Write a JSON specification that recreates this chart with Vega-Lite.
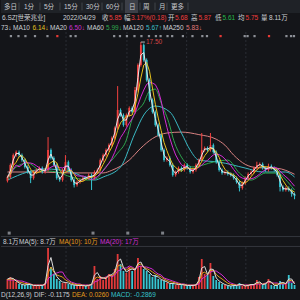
{
"$schema":"https://vega.github.io/schema/vega-lite/v6.json",
"background":"#141519",
"padding":0,
"spacing":0,
"bounds":"flush",
"config":{"view":{"stroke":null},"concat":{"spacing":0},"text":{"font":"Liberation Sans, Noto Sans CJK SC"}},
"resolve":{"scale":{"x":"independent","y":"independent"}},
"datasets":{
"tabs":[{"x":3,"t":"多日"},{"x":23,"t":"1分"},{"x":43,"t":"5分"},{"x":63,"t":"15分"},{"x":85,"t":"30分"},{"x":105,"t":"60分"},{"x":128,"t":"日"},{"x":142,"t":"周"},{"x":158,"t":"月"},{"x":170,"t":"更多"}],
"seps":[{"x":18,"a":0.2,"b":0.8},{"x":39,"a":0.2,"b":0.8},{"x":59,"a":0.2,"b":0.8},{"x":81,"a":0.2,"b":0.8},{"x":101,"a":0.2,"b":0.8},{"x":121,"a":0.2,"b":0.8},{"x":139,"a":0.2,"b":0.8},{"x":154,"a":0.2,"b":0.8},{"x":166,"a":0.2,"b":0.8},{"x":187,"a":0.2,"b":0.8}],
"sel":[{"x":124,"x2":137,"a":0,"b":1}],
"info":[{"x":1,"t":"6.SZ[世荣兆业]","k":"txt"},{"x":62,"t":"2022/04/29","k":"txt"},{"x":101,"t":"收","k":"txt"},{"x":108,"t":"5.85","k":"up"},{"x":123,"t":"幅","k":"txt"},{"x":130,"t":"3.17%(0.18)","k":"up"},{"x":167,"t":"开","k":"txt"},{"x":174,"t":"5.68","k":"up"},{"x":190,"t":"高","k":"txt"},{"x":197.5,"t":"5.87","k":"up"},{"x":214,"t":"低","k":"txt"},{"x":221.5,"t":"5.61","k":"dn"},{"x":237,"t":"均","k":"txt"},{"x":244.5,"t":"5.75","k":"up"},{"x":260,"t":"量","k":"txt"},{"x":268,"t":"8.11万","k":"txt"}],
"mrow":[{"x":0,"t":"73↓","k":"txt"},{"x":12,"t":"MA10","k":"txt"},{"x":31.5,"t":"6.14↓","k":"ma10"},{"x":49,"t":"MA20","k":"txt"},{"x":68,"t":"6.50↓","k":"ma20"},{"x":86,"t":"MA60","k":"txt"},{"x":105,"t":"5.99↓","k":"ma60"},{"x":122,"t":"MA120","k":"txt"},{"x":145,"t":"5.67↑","k":"ma120"},{"x":162,"t":"MA250","k":"txt"},{"x":185,"t":"5.83↓","k":"ma250"}],
"vlab":[{"x":2,"t":"8.1万","k":"txt"},{"x":18,"t":"MA(5): 8.7万","k":"txt"},{"x":58,"t":"MA(10): 10万","k":"v10"},{"x":99,"t":"MA(20): 17万","k":"v20"}],
"macd":[{"x":0,"t":"D(12,26,9)","k":"txt"},{"x":33,"t":"DIF: -0.1175","k":"txt"},{"x":71,"t":"DEA: 0.0260","k":"v10"},{"x":110,"t":"MACD: -0.2869","k":"cy"}],
"lines2":[{"s":0.05},{"s":0.95}],
"grid":[{"g":20.2},{"g":41.2},{"g":61.8},{"g":82.2}],
"peak":[{"i":46,"i2":47.4,"p":17.5,"t":"17.50"}],
"evtop":[{"i":1.2,"k":"n"},{"i":3.8,"k":"n"},{"i":6.2,"k":"n"},{"i":9.5,"k":"n"},{"i":13.8,"k":"n"},{"i":17.2,"k":"r"},{"i":21.8,"k":"n"},{"i":23.5,"k":"n"},{"i":36.8,"k":"n"},{"i":38.8,"k":"n"},{"i":41.2,"k":"n"},{"i":43.8,"k":"n"},{"i":46.2,"k":"n"},{"i":48.8,"k":"n"},{"i":51.2,"k":"n"},{"i":52.8,"k":"n"},{"i":55.2,"k":"n"},{"i":56.8,"k":"n"},{"i":60.5,"k":"n"},{"i":63.8,"k":"n"},{"i":67.2,"k":"n"},{"i":68.8,"k":"n"},{"i":73.5,"k":"r"},{"i":81.8,"k":"n"},{"i":82.8,"k":"n"},{"i":85.2,"k":"n"},{"i":90.2,"k":"r"},{"i":96.2,"k":"n"},{"i":97.8,"k":"n"},{"i":98.8,"k":"n"}],
"evbot":[{"i":0.6},{"i":29.5},{"i":41.5},{"i":53.5}],
"ma250":[{"i":0,"p":7.67},{"i":11,"p":7.67},{"i":22,"p":7.6},{"i":33,"p":7.6},{"i":36,"p":7.8},{"i":42,"p":8.57},{"i":46,"p":9.48},{"i":50,"p":10.2},{"i":55,"p":10.62},{"i":60,"p":10.69},{"i":66,"p":10.5},{"i":72,"p":10.15},{"i":75,"p":9.7},{"i":78,"p":8.95},{"i":82,"p":8.25},{"i":86,"p":8.0},{"i":93,"p":7.95},{"i":99,"p":7.5}],
"ma120":[{"i":0,"p":7.06},{"i":7,"p":7.67},{"i":13,"p":7.9},{"i":22,"p":7.67},{"i":30,"p":7.06},{"i":33,"p":7.29},{"i":39,"p":8.05},{"i":44,"p":10.62},{"i":47,"p":11.98},{"i":51,"p":12.66},{"i":56,"p":12.21},{"i":60,"p":10.62},{"i":63,"p":9.33},{"i":66,"p":8.57},{"i":73,"p":8.42},{"i":82,"p":7.97},{"i":88,"p":7.67},{"i":96,"p":7.67},{"i":99,"p":7.29}],
"ma60":[{"i":0,"p":7.06},{"i":3,"p":8.05},{"i":7,"p":8.35},{"i":11,"p":7.82},{"i":17,"p":7.67},{"i":22,"p":7.29},{"i":28,"p":7.06},{"i":31,"p":7.21},{"i":33,"p":7.82},{"i":38,"p":9.1},{"i":41,"p":10.09},{"i":43,"p":11.68},{"i":47,"p":12.89},{"i":49,"p":13.79},{"i":51,"p":13.94},{"i":53,"p":12.89},{"i":56,"p":11.15},{"i":57,"p":10.31},{"i":60,"p":8.8},{"i":64,"p":8.05},{"i":71,"p":8.42},{"i":76,"p":8.57},{"i":80,"p":7.59},{"i":84,"p":7.06},{"i":89,"p":7.59},{"i":93,"p":7.59},{"i":97,"p":6.83},{"i":99,"p":6.31}],
"k":[
{"i":0,"o":7.0,"h":7.41,"l":6.88,"c":7.29,"m5":7.25,"m10":7.3,"m20":7.3,"v":10,"v5":10,"v10":9.5,"v20":9},
{"i":1,"o":7.29,"h":8.32,"l":7.17,"c":8.2,"m5":7.75,"m10":7.5,"m20":7.5,"v":12,"v5":11,"v10":10,"v20":9},
{"i":2,"o":8.2,"h":9.07,"l":8.08,"c":8.95,"m5":8.58,"m10":8.15,"m20":7.9,"v":9,"v5":10.5,"v10":9.8,"v20":9},
{"i":3,"o":8.95,"h":9.3,"l":8.83,"c":9.18,"m5":9.07,"m10":8.41,"m20":8.2,"v":7,"v5":8,"v10":8.5,"v20":9},
{"i":4,"o":9.18,"h":9.3,"l":8.83,"c":8.95,"m5":9.07,"m10":8.82,"m20":8.06,"v":5,"v5":6,"v10":7,"v20":8},
{"i":5,"o":8.95,"h":9.07,"l":8.45,"c":8.57,"m5":8.76,"m10":8.91,"m20":8.21,"v":4,"v5":4.5,"v10":6.3,"v20":8},
{"i":6,"o":8.57,"h":8.69,"l":7.93,"c":8.05,"m5":8.31,"m10":8.69,"m20":8.42,"v":4,"v5":4,"v10":5.5,"v20":7},
{"i":7,"o":8.05,"h":8.17,"l":7.55,"c":7.67,"m5":7.86,"m10":8.31,"m20":8.36,"v":5,"v5":4.5,"v10":5.3,"v20":6},
{"i":8,"o":7.67,"h":7.79,"l":6.83,"c":7.21,"m5":7.44,"m10":7.88,"m20":8.35,"v":4,"v5":4.5,"v10":4.8,"v20":5},
{"i":9,"o":7.21,"h":7.79,"l":7.09,"c":7.67,"m5":7.44,"m10":7.65,"m20":8.28,"v":3,"v5":3.5,"v10":3.8,"v20":4},
{"i":10,"o":7.67,"h":7.94,"l":7.55,"c":7.82,"m5":7.75,"m10":7.59,"m20":8.14,"v":4,"v5":3.5,"v10":3.8,"v20":4},
{"i":11,"o":7.82,"h":8.09,"l":7.7,"c":7.97,"m5":7.9,"m10":7.67,"m20":7.99,"v":3,"v5":3.5,"v10":3.8,"v20":4},
{"i":12,"o":7.97,"h":8.09,"l":7.55,"c":7.67,"m5":7.82,"m10":7.78,"m20":7.83,"v":4,"v5":3.5,"v10":3.8,"v20":4},
{"i":13,"o":7.67,"h":7.94,"l":7.55,"c":7.82,"m5":7.75,"m10":7.82,"m20":7.74,"v":6,"v5":5,"v10":4.5,"v20":4},
{"i":14,"o":7.82,"h":10.31,"l":7.7,"c":9.33,"m5":8.58,"m10":8.2,"m20":7.9,"v":41,"v5":23.5,"v10":16,"v20":10},
{"i":15,"o":9.33,"h":9.45,"l":8.61,"c":8.73,"m5":9.03,"m10":8.39,"m20":8.03,"v":22,"v5":31.5,"v10":22,"v20":13},
{"i":16,"o":8.73,"h":8.85,"l":8.08,"c":8.2,"m5":8.47,"m10":8.52,"m20":8.15,"v":15,"v5":18.5,"v10":17,"v20":15},
{"i":17,"o":8.2,"h":8.32,"l":7.09,"c":7.21,"m5":7.71,"m10":8.37,"m20":8.1,"v":10,"v5":12.5,"v10":14,"v20":16},
{"i":18,"o":7.21,"h":7.33,"l":6.94,"c":7.06,"m5":7.14,"m10":7.8,"m20":8.0,"v":8,"v5":9,"v10":13,"v20":17},
{"i":19,"o":7.06,"h":7.94,"l":6.94,"c":7.82,"m5":7.44,"m10":7.57,"m20":7.98,"v":6,"v5":7,"v10":12,"v20":17},
{"i":20,"o":7.82,"h":8.95,"l":7.7,"c":8.42,"m5":8.12,"m10":7.63,"m20":8.08,"v":7,"v5":6.5,"v10":9,"v20":12},
{"i":21,"o":8.42,"h":8.54,"l":7.7,"c":7.82,"m5":8.12,"m10":7.78,"m20":8.08,"v":5,"v5":6,"v10":7.5,"v20":9},
{"i":22,"o":7.82,"h":7.94,"l":6.94,"c":7.06,"m5":7.44,"m10":7.78,"m20":7.79,"v":4,"v5":4.5,"v10":5.8,"v20":7},
{"i":23,"o":7.06,"h":7.18,"l":6.5,"c":6.68,"m5":6.87,"m10":7.5,"m20":7.54,"v":4,"v5":4,"v10":5,"v20":6},
{"i":24,"o":6.68,"h":7.03,"l":6.56,"c":6.91,"m5":6.8,"m10":7.12,"m20":7.38,"v":3,"v5":3.5,"v10":4.3,"v20":5},
{"i":25,"o":6.91,"h":7.18,"l":6.79,"c":7.06,"m5":6.99,"m10":6.93,"m20":7.36,"v":4,"v5":3.5,"v10":4.3,"v20":5},
{"i":26,"o":7.06,"h":7.33,"l":6.94,"c":7.21,"m5":7.14,"m10":6.97,"m20":7.38,"v":3,"v5":3.5,"v10":3.8,"v20":4},
{"i":27,"o":7.3,"h":7.38,"l":7.09,"c":7.21,"m5":7.21,"m10":7.1,"m20":7.3,"v":3,"v5":3,"v10":3.5,"v20":4},
{"i":28,"o":7.21,"h":7.56,"l":7.09,"c":7.44,"m5":7.33,"m10":7.23,"m20":7.18,"v":4,"v5":3.5,"v10":3.8,"v20":4},
{"i":29,"o":7.44,"h":7.56,"l":6.31,"c":7.21,"m5":7.33,"m10":7.27,"m20":7.1,"v":5,"v5":4.5,"v10":4.3,"v20":4},
{"i":30,"o":7.21,"h":7.79,"l":7.09,"c":7.67,"m5":7.44,"m10":7.38,"m20":7.18,"v":23,"v5":14,"v10":10,"v20":7},
{"i":31,"o":7.67,"h":7.94,"l":7.55,"c":7.82,"m5":7.75,"m10":7.54,"m20":7.32,"v":10,"v5":16.5,"v10":12,"v20":8},
{"i":32,"o":7.82,"h":8.69,"l":7.7,"c":8.57,"m5":8.2,"m10":7.82,"m20":7.53,"v":13,"v5":11.5,"v10":11,"v20":10},
{"i":33,"o":8.57,"h":9.07,"l":8.45,"c":8.95,"m5":8.76,"m10":8.25,"m20":7.76,"v":9,"v5":11,"v10":11,"v20":11},
{"i":34,"o":8.95,"h":9.45,"l":8.83,"c":9.33,"m5":9.14,"m10":8.67,"m20":8.03,"v":12,"v5":10.5,"v10":11,"v20":12},
{"i":35,"o":9.33,"h":9.83,"l":9.21,"c":9.71,"m5":9.52,"m10":9.14,"m20":8.34,"v":15,"v5":13.5,"v10":14,"v20":14},
{"i":36,"o":9.71,"h":10.36,"l":9.59,"c":10.24,"m5":9.98,"m10":9.56,"m20":8.69,"v":14,"v5":14.5,"v10":13,"v20":12},
{"i":37,"o":10.24,"h":11.11,"l":10.12,"c":10.99,"m5":10.62,"m10":10.07,"m20":9.16,"v":20,"v5":17,"v10":15.5,"v20":14},
{"i":38,"o":10.99,"h":14.17,"l":10.87,"c":12.36,"m5":11.68,"m10":10.83,"m20":9.75,"v":35,"v5":27.5,"v10":23,"v20":18},
{"i":39,"o":12.36,"h":12.48,"l":11.86,"c":11.98,"m5":12.17,"m10":11.39,"m20":10.27,"v":25,"v5":30,"v10":24,"v20":19},
{"i":40,"o":11.98,"h":12.1,"l":11.1,"c":11.22,"m5":11.6,"m10":11.64,"m20":10.6,"v":18,"v5":21.5,"v10":21,"v20":21},
{"i":41,"o":11.22,"h":12.1,"l":11.1,"c":11.98,"m5":11.6,"m10":11.89,"m20":10.98,"v":16,"v5":17,"v10":19,"v20":21},
{"i":42,"o":11.98,"h":12.63,"l":11.86,"c":12.51,"m5":12.25,"m10":11.92,"m20":11.38,"v":22,"v5":19,"v10":21,"v20":23},
{"i":43,"o":12.51,"h":12.63,"l":12.09,"c":12.21,"m5":12.36,"m10":11.98,"m20":11.69,"v":18,"v5":20,"v10":21,"v20":22},
{"i":44,"o":12.21,"h":14.1,"l":12.09,"c":13.87,"m5":13.04,"m10":12.64,"m20":12.14,"v":20,"v5":19,"v10":19.5,"v20":20},
{"i":45,"o":13.87,"h":15.88,"l":13.75,"c":15.76,"m5":14.82,"m10":13.59,"m20":12.74,"v":31,"v5":25.5,"v10":24,"v20":22},
{"i":46,"o":15.76,"h":17.5,"l":15.64,"c":17.27,"m5":16.52,"m10":14.78,"m20":13.35,"v":23,"v5":27,"v10":25,"v20":23},
{"i":47,"o":17.27,"h":17.39,"l":16.02,"c":16.14,"m5":16.71,"m10":15.76,"m20":13.87,"v":20,"v5":21.5,"v10":22,"v20":22},
{"i":48,"o":16.14,"h":16.26,"l":14.51,"c":14.63,"m5":15.39,"m10":15.95,"m20":14.3,"v":18,"v5":19,"v10":20.5,"v20":22},
{"i":49,"o":14.63,"h":14.75,"l":12.99,"c":13.11,"m5":13.87,"m10":15.29,"m20":14.44,"v":15,"v5":16.5,"v10":19,"v20":21},
{"i":50,"o":13.11,"h":13.23,"l":12.09,"c":12.21,"m5":12.66,"m10":14.02,"m20":14.4,"v":12,"v5":13.5,"v10":17,"v20":20},
{"i":51,"o":12.21,"h":12.33,"l":11.1,"c":11.22,"m5":11.72,"m10":12.79,"m20":14.28,"v":14,"v5":13,"v10":15,"v20":17},
{"i":52,"o":11.22,"h":11.34,"l":10.35,"c":10.47,"m5":10.85,"m10":11.75,"m20":13.85,"v":10,"v5":12,"v10":13.5,"v20":15},
{"i":53,"o":10.47,"h":10.59,"l":9.21,"c":9.33,"m5":9.9,"m10":10.81,"m20":13.05,"v":9,"v5":9.5,"v10":12,"v20":14},
{"i":54,"o":9.33,"h":9.45,"l":8.45,"c":8.57,"m5":8.95,"m10":9.9,"m20":11.96,"v":8,"v5":8.5,"v10":10,"v20":11},
{"i":55,"o":8.57,"h":8.85,"l":8.45,"c":8.73,"m5":8.65,"m10":9.28,"m20":11.04,"v":6,"v5":7,"v10":8.5,"v20":10},
{"i":56,"o":8.73,"h":8.85,"l":8.08,"c":8.2,"m5":8.47,"m10":8.71,"m20":10.23,"v":5,"v5":5.5,"v10":7.3,"v20":9},
{"i":57,"o":8.2,"h":8.32,"l":7.32,"c":7.44,"m5":7.82,"m10":8.24,"m20":9.53,"v":6,"v5":5.5,"v10":6.8,"v20":8},
{"i":58,"o":7.44,"h":7.79,"l":7.32,"c":7.67,"m5":7.56,"m10":8.01,"m20":8.96,"v":4,"v5":5,"v10":6,"v20":7},
{"i":59,"o":7.67,"h":8.09,"l":7.55,"c":7.97,"m5":7.82,"m10":7.82,"m20":8.55,"v":5,"v5":4.5,"v10":5.3,"v20":6},
{"i":60,"o":7.97,"h":8.09,"l":7.7,"c":7.82,"m5":7.9,"m10":7.73,"m20":8.22,"v":4,"v5":4.5,"v10":4.8,"v20":5},
{"i":61,"o":7.82,"h":8.32,"l":7.7,"c":8.2,"m5":8.01,"m10":7.92,"m20":8.08,"v":4,"v5":4,"v10":4.5,"v20":5},
{"i":62,"o":8.2,"h":8.32,"l":7.85,"c":7.97,"m5":8.09,"m10":7.99,"m20":8.0,"v":3,"v5":3.5,"v10":3.8,"v20":4},
{"i":63,"o":7.97,"h":8.09,"l":7.55,"c":7.67,"m5":7.82,"m10":7.92,"m20":7.87,"v":4,"v5":3.5,"v10":3.8,"v20":4},
{"i":64,"o":7.67,"h":7.94,"l":7.55,"c":7.82,"m5":7.75,"m10":7.92,"m20":7.83,"v":3,"v5":3.5,"v10":3.8,"v20":4},
{"i":65,"o":7.82,"h":8.32,"l":7.7,"c":8.2,"m5":8.01,"m10":7.92,"m20":7.92,"v":5,"v5":4,"v10":4,"v20":4},
{"i":66,"o":8.2,"h":8.69,"l":8.08,"c":8.57,"m5":8.39,"m10":8.07,"m20":8.03,"v":12,"v5":8.5,"v10":6.8,"v20":5},
{"i":67,"o":8.57,"h":10.62,"l":8.45,"c":9.33,"m5":8.95,"m10":8.48,"m20":8.2,"v":30,"v5":21,"v10":15.5,"v20":10},
{"i":68,"o":9.33,"h":9.6,"l":9.21,"c":9.48,"m5":9.41,"m10":8.9,"m20":8.41,"v":15,"v5":22.5,"v10":17,"v20":12},
{"i":69,"o":9.48,"h":9.6,"l":9.21,"c":9.33,"m5":9.41,"m10":9.18,"m20":8.55,"v":14,"v5":14.5,"v10":14,"v20":14},
{"i":70,"o":9.33,"h":10.62,"l":9.21,"c":9.71,"m5":9.52,"m10":9.46,"m20":8.77,"v":26,"v5":20,"v10":18.5,"v20":17},
{"i":71,"o":9.71,"h":9.83,"l":9.06,"c":9.18,"m5":9.45,"m10":9.43,"m20":8.96,"v":13,"v5":19.5,"v10":18.8,"v20":18},
{"i":72,"o":9.18,"h":9.3,"l":8.3,"c":8.42,"m5":8.8,"m10":9.16,"m20":9.03,"v":9,"v5":11,"v10":14.5,"v20":18},
{"i":73,"o":8.42,"h":8.54,"l":7.7,"c":7.82,"m5":8.12,"m10":8.78,"m20":8.98,"v":7,"v5":8,"v10":12,"v20":16},
{"i":74,"o":7.82,"h":7.94,"l":7.47,"c":7.59,"m5":7.71,"m10":8.25,"m20":8.86,"v":5,"v5":6,"v10":10,"v20":14},
{"i":75,"o":7.59,"h":7.79,"l":7.47,"c":7.67,"m5":7.63,"m10":7.88,"m20":8.66,"v":4,"v5":4.5,"v10":7.8,"v20":11},
{"i":76,"o":7.67,"h":7.79,"l":7.4,"c":7.52,"m5":7.6,"m10":7.65,"m20":8.41,"v":3,"v5":3.5,"v10":5.8,"v20":8},
{"i":77,"o":7.52,"h":7.64,"l":7.32,"c":7.44,"m5":7.48,"m10":7.56,"m20":8.17,"v":3,"v5":3,"v10":4.5,"v20":6},
{"i":78,"o":7.44,"h":7.56,"l":7.09,"c":7.21,"m5":7.33,"m10":7.46,"m20":7.86,"v":4,"v5":3.5,"v10":4.3,"v20":5},
{"i":79,"o":7.21,"h":7.33,"l":6.79,"c":6.91,"m5":7.06,"m10":7.27,"m20":7.58,"v":3,"v5":3.5,"v10":3.8,"v20":4},
{"i":80,"o":6.91,"h":7.03,"l":6.2,"c":6.46,"m5":6.69,"m10":7.01,"m20":7.33,"v":6,"v5":4.5,"v10":4.3,"v20":4},
{"i":81,"o":6.46,"h":6.95,"l":6.34,"c":6.83,"m5":6.65,"m10":6.85,"m20":7.21,"v":3,"v5":4.5,"v10":4.3,"v20":4},
{"i":82,"o":6.83,"h":7.33,"l":6.71,"c":7.21,"m5":7.02,"m10":6.85,"m20":7.16,"v":3,"v5":3,"v10":3.5,"v20":4},
{"i":83,"o":7.21,"h":7.64,"l":7.09,"c":7.52,"m5":7.37,"m10":7.01,"m20":7.14,"v":4,"v5":3.5,"v10":3.8,"v20":4},
{"i":84,"o":7.52,"h":7.79,"l":7.4,"c":7.67,"m5":7.6,"m10":7.31,"m20":7.16,"v":5,"v5":4.5,"v10":4.3,"v20":4},
{"i":85,"o":7.67,"h":8.09,"l":7.55,"c":7.97,"m5":7.82,"m10":7.59,"m20":7.22,"v":4,"v5":4.5,"v10":4.3,"v20":4},
{"i":86,"o":7.97,"h":8.45,"l":7.85,"c":8.2,"m5":8.09,"m10":7.84,"m20":7.35,"v":9,"v5":6.5,"v10":5.8,"v20":5},
{"i":87,"o":8.2,"h":8.39,"l":8.08,"c":8.27,"m5":8.24,"m10":8.03,"m20":7.52,"v":5,"v5":7,"v10":6,"v20":5},
{"i":88,"o":8.27,"h":8.39,"l":7.85,"c":7.97,"m5":8.12,"m10":8.1,"m20":7.71,"v":4,"v5":4.5,"v10":4.8,"v20":5},
{"i":89,"o":7.97,"h":8.09,"l":7.7,"c":7.82,"m5":7.9,"m10":8.07,"m20":7.83,"v":6,"v5":5,"v10":5.5,"v20":6},
{"i":90,"o":7.82,"h":8.3,"l":7.7,"c":8.12,"m5":7.97,"m10":8.05,"m20":7.95,"v":10,"v5":8,"v10":7.5,"v20":7},
{"i":91,"o":8.12,"h":8.24,"l":7.85,"c":7.97,"m5":8.05,"m10":7.97,"m20":8.0,"v":4,"v5":7,"v10":6.5,"v20":6},
{"i":92,"o":7.97,"h":8.09,"l":7.7,"c":7.82,"m5":7.9,"m10":7.93,"m20":8.02,"v":3,"v5":3.5,"v10":4.8,"v20":6},
{"i":93,"o":7.82,"h":7.94,"l":7.32,"c":7.44,"m5":7.63,"m10":7.84,"m20":7.96,"v":4,"v5":3.5,"v10":4.8,"v20":6},
{"i":94,"o":7.44,"h":7.56,"l":6.2,"c":6.53,"m5":6.99,"m10":7.44,"m20":7.75,"v":8,"v5":6,"v10":5.5,"v20":5},
{"i":95,"o":6.53,"h":6.65,"l":6.19,"c":6.31,"m5":6.42,"m10":7.03,"m20":7.5,"v":5,"v5":6.5,"v10":5.8,"v20":5},
{"i":96,"o":6.31,"h":6.58,"l":6.19,"c":6.46,"m5":6.39,"m10":6.69,"m20":7.31,"v":6,"v5":5.5,"v10":5.3,"v20":5},
{"i":97,"o":6.46,"h":6.58,"l":6.19,"c":6.31,"m5":6.39,"m10":6.4,"m20":7.12,"v":14,"v5":10,"v10":8.5,"v20":7},
{"i":98,"o":6.31,"h":6.43,"l":5.8,"c":6.0,"m5":6.16,"m10":6.27,"m20":6.86,"v":6,"v5":10,"v10":8.5,"v20":7},
{"i":99,"o":6.0,"h":6.12,"l":5.61,"c":5.85,"m5":5.93,"m10":6.16,"m20":6.6,"v":4,"v5":5,"v10":6,"v20":7}
]},
"vconcat":[
{"width":300,"height":13,"view":{"fill":"#1f2227","stroke":null},
 "layer":[
  {"data":{"name":"sel"},"mark":{"type":"rect","color":"#3c3f47"},"encoding":{"x":{"field":"x","type":"quantitative","scale":{"domain":[0,300],"nice":false,"zero":false},"axis":null},"x2":{"field":"x2"},"y":{"field":"a","type":"quantitative","scale":{"domain":[0,1],"nice":false},"axis":null},"y2":{"field":"b"}}},
  {"data":{"name":"seps"},"mark":{"type":"rule","color":"#41444b","strokeWidth":1},"encoding":{"x":{"field":"x","type":"quantitative","scale":{"domain":[0,300],"nice":false,"zero":false},"axis":null},"y":{"field":"a","type":"quantitative","scale":{"domain":[0,1],"nice":false},"axis":null},"y2":{"field":"b"}}},
  {"data":{"name":"tabs"},"mark":{"type":"text","align":"left","baseline":"middle","fontSize":6.5,"color":"#c8cbd0"},"encoding":{"x":{"field":"x","type":"quantitative","scale":{"domain":[0,300],"nice":false,"zero":false},"axis":null},"text":{"field":"t"}}}
 ]},
{"width":300,"height":10,
 "data":{"name":"info"},"mark":{"type":"text","align":"left","baseline":"middle","fontSize":6.5},
 "encoding":{"x":{"field":"x","type":"quantitative","scale":{"domain":[0,300],"nice":false,"zero":false},"axis":null},"text":{"field":"t"},
  "color":{"field":"k","type":"nominal","scale":{"domain":["txt","up","dn","ma10","ma20","ma60","ma120","ma250","v10","v20","cy"],"range":["#cdd0d5","#f03d3d","#27b84a","#e3c21e","#d22fd2","#2fa84f","#3cbfc8","#e07b7b","#e59a1c","#d22fd2","#35c2cc"]},"legend":null}}},
{"width":300,"height":9,
 "data":{"name":"mrow"},"mark":{"type":"text","align":"left","baseline":"middle","fontSize":6.5},
 "encoding":{"x":{"field":"x","type":"quantitative","scale":{"domain":[0,300],"nice":false,"zero":false},"axis":null},"text":{"field":"t"},
  "color":{"field":"k","type":"nominal","scale":{"domain":["txt","up","dn","ma10","ma20","ma60","ma120","ma250","v10","v20","cy"],"range":["#cdd0d5","#f03d3d","#27b84a","#e3c21e","#d22fd2","#2fa84f","#3cbfc8","#e07b7b","#e59a1c","#d22fd2","#35c2cc"]},"legend":null}}},
{"width":300,"height":204,
 "layer":[
  {"data":{"name":"grid"},"mark":{"type":"rule","color":"#2b2e35","strokeDash":[2,2],"strokeWidth":1},"encoding":{"x":{"field":"g","type":"quantitative","scale":{"domain":[-0.5,99.5],"nice":false,"zero":false},"axis":null}}},
  {"data":{"name":"ma250"},"mark":{"type":"line","color":"#d98282","strokeWidth":1,"interpolate":"monotone","clip":true},"encoding":{"x":{"field":"i","type":"quantitative","scale":{"domain":[-0.5,99.5],"nice":false,"zero":false},"axis":null},"y":{"field":"p","type":"quantitative","scale":{"domain":[2.83,18.26],"nice":false,"zero":false},"axis":null}}},
  {"data":{"name":"ma120"},"mark":{"type":"line","color":"#3ab9c4","strokeWidth":1,"interpolate":"monotone","clip":true},"encoding":{"x":{"field":"i","type":"quantitative","scale":{"domain":[-0.5,99.5],"nice":false,"zero":false},"axis":null},"y":{"field":"p","type":"quantitative","scale":{"domain":[2.83,18.26],"nice":false,"zero":false},"axis":null}}},
  {"data":{"name":"ma60"},"mark":{"type":"line","color":"#2ea54e","strokeWidth":1,"interpolate":"monotone","clip":true},"encoding":{"x":{"field":"i","type":"quantitative","scale":{"domain":[-0.5,99.5],"nice":false,"zero":false},"axis":null},"y":{"field":"p","type":"quantitative","scale":{"domain":[2.83,18.26],"nice":false,"zero":false},"axis":null}}},
  {"data":{"name":"k"},"mark":{"type":"rule","strokeWidth":1,"clip":true},"encoding":{"x":{"field":"i","type":"quantitative","scale":{"domain":[-0.5,99.5],"nice":false,"zero":false},"axis":null},"y":{"field":"l","type":"quantitative","scale":{"domain":[2.83,18.26],"nice":false,"zero":false},"axis":null},"y2":{"field":"h"},"color":{"condition":{"test":"datum.c >= datum.o","value":"#f2403f"},"value":"#36c6d3"}}},
  {"data":{"name":"k"},"mark":{"type":"bar","width":1.8,"clip":true},"encoding":{"x":{"field":"i","type":"quantitative","scale":{"domain":[-0.5,99.5],"nice":false,"zero":false},"axis":null},"y":{"field":"o","type":"quantitative","scale":{"domain":[2.83,18.26],"nice":false,"zero":false},"axis":null},"y2":{"field":"c"},"color":{"condition":{"test":"datum.c >= datum.o","value":"#f2403f"},"value":"#36c6d3"}}},
  {"data":{"name":"k"},"mark":{"type":"line","color":"#d42ad4","strokeWidth":1,"clip":true},"encoding":{"x":{"field":"i","type":"quantitative","scale":{"domain":[-0.5,99.5],"nice":false,"zero":false},"axis":null},"y":{"field":"m20","type":"quantitative","scale":{"domain":[2.83,18.26],"nice":false,"zero":false},"axis":null}}},
  {"data":{"name":"k"},"mark":{"type":"line","color":"#e8c31c","strokeWidth":1,"clip":true},"encoding":{"x":{"field":"i","type":"quantitative","scale":{"domain":[-0.5,99.5],"nice":false,"zero":false},"axis":null},"y":{"field":"m10","type":"quantitative","scale":{"domain":[2.83,18.26],"nice":false,"zero":false},"axis":null}}},
  {"data":{"name":"k"},"mark":{"type":"line","color":"#e6e6e6","strokeWidth":1,"clip":true},"encoding":{"x":{"field":"i","type":"quantitative","scale":{"domain":[-0.5,99.5],"nice":false,"zero":false},"axis":null},"y":{"field":"m5","type":"quantitative","scale":{"domain":[2.83,18.26],"nice":false,"zero":false},"axis":null}}},
  {"data":{"name":"peak"},"mark":{"type":"rule","color":"#b8b8b8","strokeWidth":1},"encoding":{"x":{"field":"i","type":"quantitative","scale":{"domain":[-0.5,99.5],"nice":false,"zero":false},"axis":null},"x2":{"field":"i2"},"y":{"field":"p","type":"quantitative","scale":{"domain":[2.83,18.26],"nice":false,"zero":false},"axis":null}}},
  {"data":{"name":"peak"},"mark":{"type":"text","color":"#d04545","fontSize":6.5,"align":"left","baseline":"middle","dx":1},"encoding":{"x":{"field":"i2","type":"quantitative","scale":{"domain":[-0.5,99.5],"nice":false,"zero":false},"axis":null},"y":{"field":"p","type":"quantitative","scale":{"domain":[2.83,18.26],"nice":false,"zero":false},"axis":null},"text":{"field":"t"}}},
  {"data":{"name":"evtop"},"mark":{"type":"point","shape":"square","filled":true,"size":5,"opacity":1},"encoding":{"x":{"field":"i","type":"quantitative","scale":{"domain":[-0.5,99.5],"nice":false,"zero":false},"axis":null},"y":{"datum":17.95,"type":"quantitative","scale":{"domain":[2.83,18.26],"nice":false,"zero":false},"axis":null},"color":{"condition":{"test":"datum.k == 'r'","value":"#e53935"},"value":"#8d9097"}}},
  {"data":{"name":"evbot"},"mark":{"type":"point","shape":"square","filled":true,"size":9,"color":"#7d8087","opacity":1},"encoding":{"x":{"field":"i","type":"quantitative","scale":{"domain":[-0.5,99.5],"nice":false,"zero":false},"axis":null},"y":{"datum":3.05,"type":"quantitative","scale":{"domain":[2.83,18.26],"nice":false,"zero":false},"axis":null}}}
 ]},
{"width":300,"height":11,
 "layer":[
  {"data":{"name":"lines2"},"mark":{"type":"rule","color":"#33363d","strokeWidth":1},"encoding":{"y":{"field":"s","type":"quantitative","scale":{"domain":[0,1],"nice":false},"axis":null}}},
  {"data":{"name":"vlab"},"mark":{"type":"text","align":"left","baseline":"middle","fontSize":6.5},"encoding":{"x":{"field":"x","type":"quantitative","scale":{"domain":[0,300],"nice":false,"zero":false},"axis":null},"text":{"field":"t"},
   "color":{"field":"k","type":"nominal","scale":{"domain":["txt","up","dn","ma10","ma20","ma60","ma120","ma250","v10","v20","cy"],"range":["#cdd0d5","#f03d3d","#27b84a","#e3c21e","#d22fd2","#2fa84f","#3cbfc8","#e07b7b","#e59a1c","#d22fd2","#35c2cc"]},"legend":null}}}
 ]},
{"width":300,"height":42,
 "layer":[
  {"data":{"name":"grid"},"mark":{"type":"rule","color":"#2b2e35","strokeDash":[2,2],"strokeWidth":1},"encoding":{"x":{"field":"g","type":"quantitative","scale":{"domain":[-0.5,99.5],"nice":false,"zero":false},"axis":null}}},
  {"data":{"name":"k"},"mark":{"type":"bar","width":1.8,"clip":true},"encoding":{"x":{"field":"i","type":"quantitative","scale":{"domain":[-0.5,99.5],"nice":false,"zero":false},"axis":null},"y":{"field":"v","type":"quantitative","scale":{"domain":[0,42],"nice":false},"axis":null},"color":{"condition":{"test":"datum.c >= datum.o","value":"#e23a3a"},"value":"#36c6d3"}}},
  {"data":{"name":"k"},"mark":{"type":"line","color":"#d42ad4","strokeWidth":1,"clip":true},"encoding":{"x":{"field":"i","type":"quantitative","scale":{"domain":[-0.5,99.5],"nice":false,"zero":false},"axis":null},"y":{"field":"v20","type":"quantitative","scale":{"domain":[0,42],"nice":false},"axis":null}}},
  {"data":{"name":"k"},"mark":{"type":"line","color":"#e59a1c","strokeWidth":1,"clip":true},"encoding":{"x":{"field":"i","type":"quantitative","scale":{"domain":[-0.5,99.5],"nice":false,"zero":false},"axis":null},"y":{"field":"v10","type":"quantitative","scale":{"domain":[0,42],"nice":false},"axis":null}}},
  {"data":{"name":"k"},"mark":{"type":"line","color":"#dcdcdc","strokeWidth":1,"clip":true},"encoding":{"x":{"field":"i","type":"quantitative","scale":{"domain":[-0.5,99.5],"nice":false,"zero":false},"axis":null},"y":{"field":"v5","type":"quantitative","scale":{"domain":[0,42],"nice":false},"axis":null}}}
 ]},
{"width":300,"height":11,
 "data":{"name":"macd"},"mark":{"type":"text","align":"left","baseline":"middle","fontSize":6.5},
 "encoding":{"x":{"field":"x","type":"quantitative","scale":{"domain":[0,300],"nice":false,"zero":false},"axis":null},"text":{"field":"t"},
  "color":{"field":"k","type":"nominal","scale":{"domain":["txt","up","dn","ma10","ma20","ma60","ma120","ma250","v10","v20","cy"],"range":["#cdd0d5","#f03d3d","#27b84a","#e3c21e","#d22fd2","#2fa84f","#3cbfc8","#e07b7b","#e59a1c","#d22fd2","#35c2cc"]},"legend":null}}}
]
}
